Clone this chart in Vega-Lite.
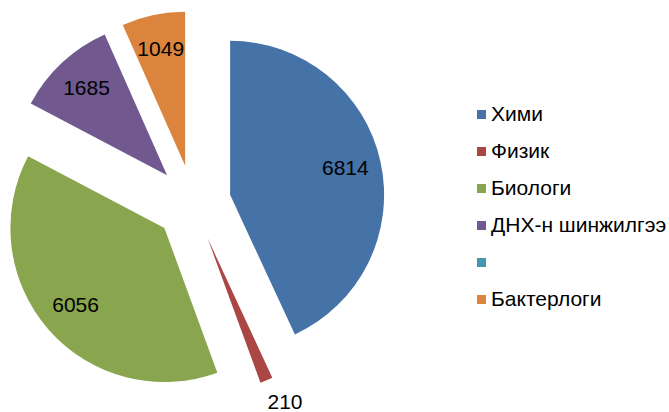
{
  "$schema": "https://vega.github.io/schema/vega-lite/v6.json",
  "width": 386,
  "height": 406,
  "padding": 0,
  "background": "white",
  "config": {"view": {"stroke": null}, "font": "Liberation Sans"},
  "data": {
    "values": [
      {"category": "Хими", "value": 6814, "i": 1},
      {"category": "Физик", "value": 210, "i": 2},
      {"category": "Биологи", "value": 6056, "i": 3},
      {"category": "ДНХ-н шинжилгээ", "value": 1685, "i": 4},
      {"category": " ", "value": 0, "i": 5},
      {"category": "Бактерлоги", "value": 1049, "i": 6}
    ]
  },
  "encoding": {
    "theta": {"field": "value", "type": "quantitative", "stack": true},
    "order": {"field": "i", "type": "quantitative"}
  },
  "layer": [
    {
      "mark": {
        "type": "arc",
        "outerRadius": 154,
        "xOffset": {"expr": "38*sin((scale('theta', datum.value_start)+scale('theta', datum.value_end))/2)"},
        "yOffset": {"expr": "-38*cos((scale('theta', datum.value_start)+scale('theta', datum.value_end))/2)"}
      },
      "encoding": {
        "color": {
          "field": "category",
          "type": "nominal",
          "scale": {
            "domain": ["Хими", "Физик", "Биологи", "ДНХ-н шинжилгээ", " ", "Бактерлоги"],
            "range": ["#4572A7", "#AA4643", "#89A54E", "#71588F", "#4198AF", "#DB843D"]
          },
          "legend": {
            "title": null,
            "orient": "none",
            "legendX": 471,
            "legendY": 104,
            "padding": 0,
            "offset": 0,
            "symbolOffset": 0,
            "symbolType": "square",
            "symbolSize": 81,
            "symbolStrokeWidth": 0,
            "labelFont": "Liberation Sans",
            "labelFontSize": 21,
            "labelColor": "#000000",
            "labelOffset": -1,
            "rowPadding": 15,
            "labelLimit": 300
          }
        }
      }
    },
    {
      "transform": [{"filter": "datum.value > 0"}],
      "mark": {
        "type": "text",
        "font": "Liberation Sans",
        "fontSize": 21,
        "color": "#000000",
        "radius": {"expr": "datum.value < 500 ? 179 : 118"},
        "dx": {"expr": "datum.value < 500 ? 9 : 0"},
        "xOffset": {"expr": "38*sin((scale('theta', datum.value_start)+scale('theta', datum.value_end))/2)"},
        "yOffset": {"expr": "-38*cos((scale('theta', datum.value_start)+scale('theta', datum.value_end))/2)"}
      },
      "encoding": {
        "text": {"field": "value", "type": "quantitative", "format": "d"}
      }
    }
  ]
}
